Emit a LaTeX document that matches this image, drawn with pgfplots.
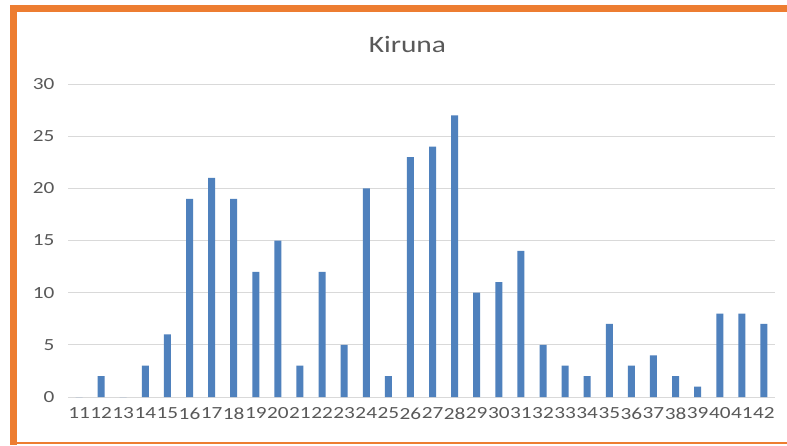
\documentclass[border=0pt]{standalone}
\usepackage{pgfplots}
\pgfplotsset{compat=1.18}
\usepackage{fontspec}
\setmainfont[FakeStretch=1.25]{Carlito}
\definecolor{barblue}{RGB}{79,129,189}
\definecolor{frameorange}{RGB}{237,125,49}
\definecolor{txtgray}{RGB}{89,89,89}
\definecolor{gridgray}{RGB}{217,217,217}
\begin{document}
\begin{tikzpicture}[x=1pt,y=1pt]
\useasboundingbox (0,0) rectangle (787,445);
\fill[white] (0,0) rectangle (787,445);
\begin{axis}[
  at={(68pt,48pt)}, anchor=south west,
  scale only axis, width=707pt, height=313pt,
  xmin=10.5, xmax=42.5, ymin=0, ymax=30,
  ytick={0,5,...,30},
  xtick={11,...,42},
  ymajorgrids, grid style={gridgray, line width=0.8pt},
  axis x line*=bottom, axis y line*=left,
  x axis line style={gridgray, line width=0.8pt, -},
  y axis line style={draw=none},
  major tick length=0pt,
  tick style={draw=none},
  ticklabel style={text=txtgray, font=\fontsize{17}{17}\selectfont},
  /pgf/number format/assume math mode=true,
  yticklabel style={xshift=-10pt},
  xticklabel style={yshift=-7pt},
  title={Kiruna},
  title style={text=txtgray, font=\fontsize{23.5}{23.5}\selectfont, at={(0.48,1)}, yshift=22pt},
  clip=false,
]
\addplot[ybar, bar width=7pt, fill=barblue, draw=none] coordinates {
(11,0) (12,2) (13,0) (14,3) (15,6) (16,19) (17,21) (18,19) (19,12) (20,15)
(21,3) (22,12) (23,5) (24,20) (25,2) (26,23) (27,24) (28,27) (29,10) (30,11)
(31,14) (32,5) (33,3) (34,2) (35,7) (36,3) (37,4) (38,2) (39,1) (40,8)
(41,8) (42,7)
};
\end{axis}
\fill[frameorange] (10,0) rectangle (17,440);
\fill[frameorange] (10,433) rectangle (787,440);
\fill[frameorange] (10,1) rectangle (787,3);
\end{tikzpicture}
\end{document}
